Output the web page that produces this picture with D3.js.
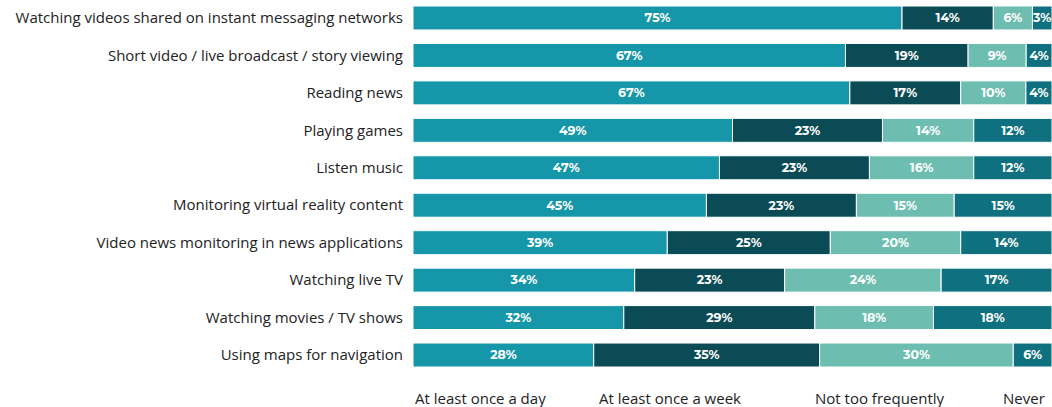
<!DOCTYPE html>
<html>
<head>
<meta charset="utf-8">
<script src="https://cdn.jsdelivr.net/npm/d3@7/dist/d3.min.js"></script>
<style>
  html, body { margin: 0; padding: 0; background: #ffffff; }
  svg { display: block; }
</style>
</head>
<body>
<svg id="chart" width="1052" height="407"></svg>
<script>
// Activities, from top to bottom
const activities = [
  "Watching videos shared on instant messaging networks",
  "Short video / live broadcast / story viewing",
  "Reading news",
  "Playing games",
  "Listen music",
  "Monitoring virtual reality content",
  "Video news monitoring in news applications",
  "Watching live TV",
  "Watching movies / TV shows",
  "Using maps for navigation"
];

// Frequency answers, in stacking order
const frequencies = ["At least once a day", "At least once a week", "Not too frequently", "Never"];

// Share of respondents (%) per answer, aligned with activities
const dailyShare  = [75, 67, 67, 49, 47, 45, 39, 34, 32, 28];
const weeklyShare = [14, 19, 17, 23, 23, 23, 25, 23, 29, 35];
const rarelyShare = [ 6,  9, 10, 14, 16, 15, 20, 24, 18, 30];
const neverShare  = [ 3,  4,  4, 12, 12, 15, 14, 17, 18,  6];

const seriesValues = [dailyShare, weeklyShare, rarelyShare, neverShare];
const colors = ["#1697a9", "#0b4b55", "#6dbeb0", "#0f717f"];

// Rows for the stack layout
const rows = activities.map((a, i) => {
  const r = { activity: a };
  frequencies.forEach((f, k) => { r[f] = seriesValues[k][i]; });
  return r;
});

const svg = d3.select("#chart");
const W = 1052, H = 407;
const margin = { left: 413, right: 0, top: 6 };
const barsBottom = 367;

// Each row fills the full width (shares normalised per row)
const stack = d3.stack().keys(frequencies).offset(d3.stackOffsetExpand);
const layers = stack(rows);

const x = d3.scaleLinear().domain([0, 1]).range([margin.left, W - margin.right]);
const y = d3.scaleBand()
  .domain(activities)
  .range([margin.top, barsBottom])
  .paddingInner(0.36)
  .paddingOuter(0);

const color = d3.scaleOrdinal().domain(frequencies).range(colors);

const groups = svg.append("g").selectAll("g")
  .data(layers)
  .join("g")
  .attr("fill", d => color(d.key));

groups.selectAll("rect")
  .data(d => d.map(s => ({ s, key: d.key })))
  .join("rect")
  .attr("x", d => x(d.s[0]))
  .attr("y", d => y(d.s.data.activity))
  .attr("width", d => x(d.s[1]) - x(d.s[0]))
  .attr("height", y.bandwidth())
  .attr("stroke", "#ffffff")
  .attr("stroke-width", 1);

// Percentage labels inside the segments
groups.selectAll("text")
  .data(d => d.map(s => ({ s, key: d.key })))
  .join("text")
  .attr("x", d => (x(d.s[0]) + x(d.s[1])) / 2)
  .attr("y", d => y(d.s.data.activity) + y.bandwidth() / 2)
  .attr("dy", "0.35em")
  .attr("text-anchor", "middle")
  .attr("fill", "#ffffff")
  .attr("font-family", "Montserrat, 'Open Sans', sans-serif")
  .attr("font-weight", 700)
  .attr("font-size", 12.5)
  .text(d => d.s.data[d.key] + "%");

// Category axis on the left, without lines
const yAxis = svg.append("g")
  .attr("transform", `translate(${margin.left - 10},0)`)
  .call(d3.axisLeft(y).tickSize(0).tickPadding(0));
yAxis.select(".domain").remove();
yAxis.selectAll("text")
  .attr("fill", "#222222")
  .attr("font-family", "'Open Sans', sans-serif")
  .attr("font-size", 15)
  .attr("dy", "0.35em");

// Legend: answer names under the bars
const legendX = [415, 599, 815, 1003];
svg.append("g").selectAll("text")
  .data(frequencies)
  .join("text")
  .attr("x", (d, i) => legendX[i])
  .attr("y", 399)
  .attr("dy", "0.35em")
  .attr("fill", "#222222")
  .attr("font-family", "'Open Sans', sans-serif")
  .attr("font-size", 15)
  .text(d => d);
</script>
</body>
</html>
